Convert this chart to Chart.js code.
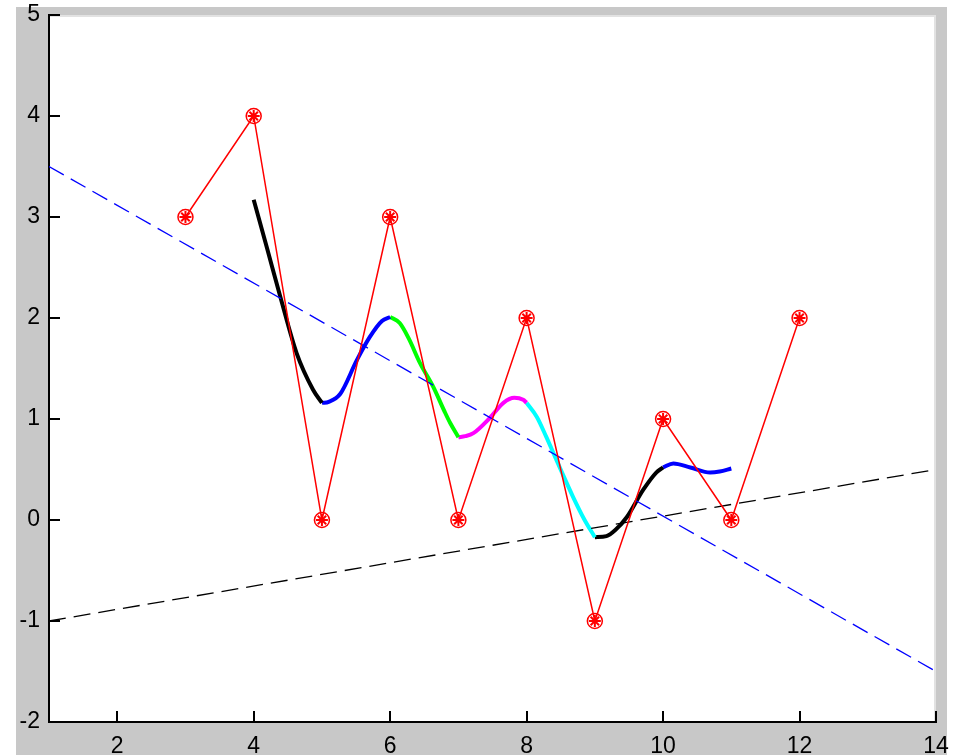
<!DOCTYPE html>
<html>
<head>
<meta charset="utf-8">
<script src="https://cdn.jsdelivr.net/npm/chart.js@4.4.1/dist/chart.umd.min.js"></script>
<style>
  html, body { margin: 0; padding: 0; background: #ffffff; }
  #plot { display: block; }
</style>
</head>
<body>
<canvas id="plot" width="955" height="755"></canvas>
<script>
// Sample points joined by a red line
const sampleX = [3, 4, 5, 6, 7, 8, 9, 10, 11, 12];
const sampleY = [3, 4, 0, 3, 0, 2, -1, 1, 0, 2];

// Two straight reference lines (end points)
const blueLineX = [1, 14];
const blueLineY = [3.5, -1.5];
const blackLineX = [1, 14];
const blackLineY = [-1, 0.5];

// Smooth fitted curve, one piece per unit interval
const seg1X = [4.0, 4.2, 4.39, 4.63, 4.87, 5.0];
const seg1Y = [3.17, 2.68, 2.21, 1.65, 1.29, 1.16];
const seg2X = [5.0, 5.1, 5.27, 5.51, 5.70, 5.88, 6.0];
const seg2Y = [1.16, 1.17, 1.25, 1.58, 1.81, 1.97, 2.01];
const seg3X = [6.0, 6.14, 6.27, 6.44, 6.63, 6.80, 6.88, 7.0];
const seg3Y = [2.01, 1.95, 1.80, 1.55, 1.32, 1.07, 0.96, 0.82];
const seg4X = [7.0, 7.1, 7.22, 7.46, 7.66, 7.82, 7.95, 8.0];
const seg4Y = [0.82, 0.83, 0.86, 1.01, 1.16, 1.21, 1.19, 1.16];
const seg5X = [8.0, 8.15, 8.29, 8.44, 8.68, 8.85, 9.0];
const seg5Y = [1.16, 1.02, 0.82, 0.59, 0.23, 0.0, -0.17];
const seg6X = [9.0, 9.17, 9.3, 9.47, 9.71, 9.9, 10.0];
const seg6Y = [-0.17, -0.16, -0.1, 0.03, 0.30, 0.47, 0.52];
const seg7X = [10.0, 10.15, 10.40, 10.69, 10.83, 11.0];
const seg7Y = [0.52, 0.56, 0.52, 0.47, 0.48, 0.51];

const segColors = ['#000000', '#0000ff', '#00ff00', '#ff00ff', '#00ffff', '#000000', '#0000ff'];

// Axis ticks
const xTickValues = [2, 4, 6, 8, 10, 12, 14];
const yTickValues = [-2, -1, 0, 1, 2, 3, 4, 5];

const pts = (xs, ys) => xs.map((x, i) => ({ x: x, y: ys[i] }));

const segments = [
  [seg1X, seg1Y], [seg2X, seg2Y], [seg3X, seg3Y], [seg4X, seg4Y],
  [seg5X, seg5Y], [seg6X, seg6Y], [seg7X, seg7Y]
];

const curveSets = segments.map((s, i) => ({
  data: pts(s[0], s[1]),
  borderColor: segColors[i],
  borderWidth: 4,
  pointRadius: 0,
  cubicInterpolationMode: 'monotone',
  fill: false,
  order: 5
}));

// Fixed axis sizes, no extra label padding around the plot box
const fixAxis = (size, vertical) => s => {
  if (vertical) { s.width = size; } else { s.height = size; }
  s.paddingTop = 0; s.paddingBottom = 0;
  s.paddingLeft = 0; s.paddingRight = 0;
};

// Figure background, white axes box and inward tick marks
const frame = {
  id: 'frame',
  beforeDraw(chart) {
    const { ctx, chartArea: a } = chart;
    ctx.save();
    ctx.fillStyle = '#ffffff';
    ctx.fillRect(0, 0, chart.width, chart.height);
    ctx.fillStyle = '#c8c8c8';
    ctx.fillRect(16, 7, 931, chart.height - 7);
    ctx.fillStyle = '#ffffff';
    ctx.fillRect(a.left, a.top, a.right - a.left, a.bottom - a.top);
    ctx.strokeStyle = '#e2e2e2';
    ctx.lineWidth = 2;
    ctx.beginPath();
    ctx.moveTo(a.left, a.top + 1);
    ctx.lineTo(a.right - 1, a.top + 1);
    ctx.lineTo(a.right - 1, a.bottom);
    ctx.stroke();
    ctx.restore();
  },
  afterDraw(chart) {
    const { ctx, chartArea: a, scales } = chart;
    const len = 11;
    ctx.save();
    ctx.strokeStyle = '#000000';
    ctx.lineWidth = 2;
    ctx.beginPath();
    xTickValues.forEach(v => {
      const px = Math.round(scales.x.getPixelForValue(v));
      ctx.moveTo(px, a.bottom);
      ctx.lineTo(px, a.bottom - len);
    });
    yTickValues.forEach(v => {
      const py = Math.round(scales.y.getPixelForValue(v));
      ctx.moveTo(a.left, py);
      ctx.lineTo(a.left + len, py);
    });
    ctx.stroke();
    ctx.restore();
  }
};

new Chart(document.getElementById('plot'), {
  type: 'line',
  data: {
    datasets: [
      {
        data: pts(sampleX, sampleY),
        borderColor: '#ff0000',
        borderWidth: 1.5,
        pointStyle: 'circle',
        pointRadius: 7.5,
        pointBorderWidth: 1.5,
        pointBorderColor: '#ff0000',
        pointBackgroundColor: 'rgba(255,0,0,0)',
        tension: 0,
        fill: false,
        order: 1
      },
      {
        data: pts(sampleX, sampleY),
        showLine: false,
        pointStyle: 'star',
        pointRadius: 6,
        pointBorderWidth: 2,
        pointBorderColor: '#ff0000',
        pointBackgroundColor: '#ff0000',
        order: 0
      },
      {
        data: pts(blueLineX, blueLineY),
        borderColor: '#0000ff',
        borderWidth: 1.3,
        borderDash: [17, 8],
        pointRadius: 0,
        fill: false,
        order: 3
      },
      {
        data: pts(blackLineX, blackLineY),
        borderColor: '#000000',
        borderWidth: 1.3,
        borderDash: [17, 8],
        pointRadius: 0,
        fill: false,
        order: 3
      },
      ...curveSets
    ]
  },
  options: {
    responsive: false,
    animation: false,
    devicePixelRatio: 1,
    layout: { padding: { top: 15, right: 19, left: 0, bottom: 0 } },
    plugins: {
      legend: { display: false },
      tooltip: { enabled: false }
    },
    scales: {
      x: {
        type: 'linear',
        min: 1,
        max: 14,
        afterBuildTicks: s => { s.ticks = xTickValues.map(v => ({ value: v })); },
        afterFit: fixAxis(33, false),
        grid: { drawOnChartArea: false, drawTicks: false },
        border: { display: true, color: '#000000', width: 2 },
        ticks: {
          padding: 11,
          color: '#000000',
          maxRotation: 0,
          font: { family: 'Liberation Sans', size: 23 }
        }
      },
      y: {
        type: 'linear',
        min: -2,
        max: 5,
        afterBuildTicks: s => { s.ticks = yTickValues.map(v => ({ value: v })); },
        afterFit: fixAxis(49, true),
        grid: { drawOnChartArea: false, drawTicks: false },
        border: { display: true, color: '#000000', width: 2 },
        ticks: {
          padding: 9,
          color: '#000000',
          font: { family: 'Liberation Sans', size: 23 }
        }
      }
    }
  },
  plugins: [frame]
});
</script>
</body>
</html>
